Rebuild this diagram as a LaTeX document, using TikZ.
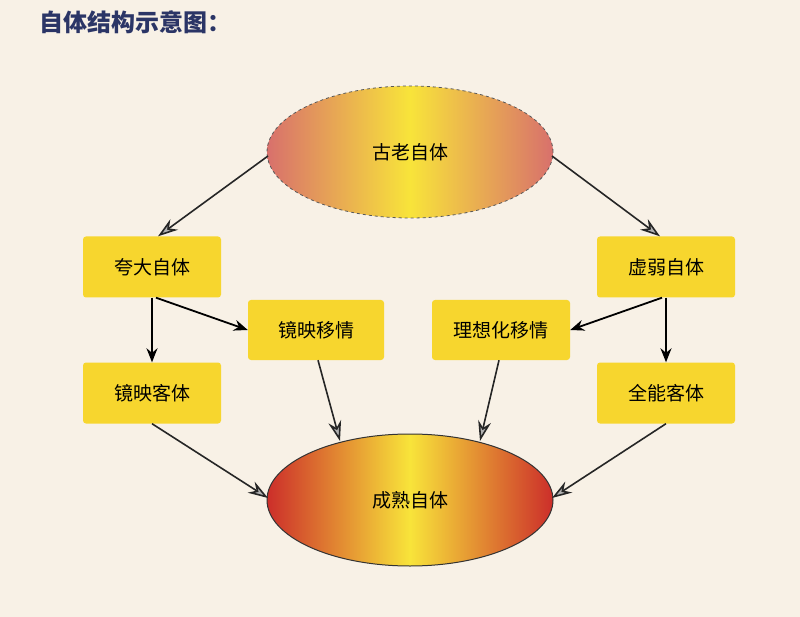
\documentclass[tikz,border=0pt]{standalone}
\usepackage{fontspec}
\setmainfont{Noto Sans CJK SC}
\usetikzlibrary{shapes.geometric,arrows.meta}
\definecolor{bg}{HTML}{F8F1E6}
\definecolor{boxy}{HTML}{F7D62E}
\definecolor{ttl}{HTML}{2B3566}
\definecolor{pinkedge}{HTML}{D8706C}
\definecolor{rededge}{HTML}{CC2E2A}
\definecolor{midy}{HTML}{F8E43A}
\begin{document}
\begin{tikzpicture}[x=1pt,y=-1pt,
  box/.style={draw=none,fill=boxy,rounded corners=3pt,minimum width=138pt,minimum height=61pt,font=\fontsize{19}{22}\selectfont},
  ell/.style={ellipse,minimum width=286pt,minimum height=132pt,font=\fontsize{19}{22}\selectfont},
  arr/.style={-{Stealth[length=20pt,width=13pt,fill=gray!60]},draw=black!85,line width=1.6pt},
  arb/.style={-{Stealth[length=14pt,width=11pt]},line width=1.8pt}]
\fill[bg] (0,0) rectangle (800,617);
\useasboundingbox (0,0) rectangle (800,617);
\node[anchor=west,text=ttl,font=\fontsize{24}{28}\selectfont\bfseries] (t) at (36,22) {自体结构示意图：};
\node[ell,draw=gray!70!black,dashed,line width=0.8pt,left color=pinkedge,right color=pinkedge,middle color=midy] (top) at (410,152) {古老自体};
\node[ell,draw=black!80,line width=1pt,left color=rededge,right color=rededge,middle color=midy] (bot) at (410,500) {成熟自体};
\node[box] (kd) at (152,267) {夸大自体};
\node[box] (xr) at (666,267) {虚弱自体};
\node[box,minimum width=136pt,minimum height=60pt] (jy) at (316,330) {镜映移情};
\node[box,minimum width=138pt,minimum height=60pt] (lx) at (501,330) {理想化移情};
\node[box] (jk) at (152,393) {镜映客体};
\node[box] (qn) at (666,393) {全能客体};
\coordinate (t1) at (268,156);
\coordinate (t2) at (552,156);
\coordinate (b1) at (268,498);
\coordinate (b2) at (552,498);
\coordinate (b3) at (340,441);
\coordinate (b4) at (480,441);
\draw[arr] (t1) -- ([xshift=6pt]kd.north);
\draw[arr] (t2) -- ([xshift=-6pt]xr.north);
\draw[arb] (kd.south) -- (jk.north);
\draw[arb] (xr.south) -- (qn.north);
\draw[arb] ([xshift=4pt]kd.south) -- (jy.west);
\draw[arb] ([xshift=-4pt]xr.south) -- (lx.east);
\draw[arr] (jk.south) -- (b1);
\draw[arr] (qn.south) -- (b2);
\draw[arr] ([xshift=2pt]jy.south) -- (b3);
\draw[arr] ([xshift=-2pt]lx.south) -- (b4);
\end{tikzpicture}
\end{document}
